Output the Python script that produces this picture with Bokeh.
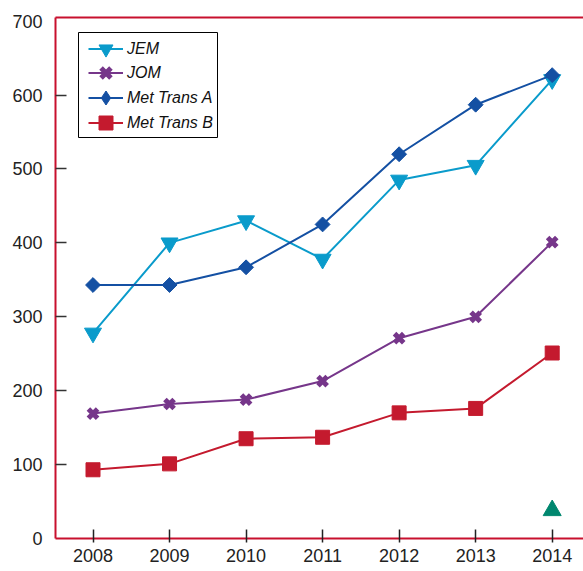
import numpy as np
from bokeh.plotting import figure
from bokeh.models import FixedTicker, LinearAxis, Range1d, BoxAnnotation, Legend, LegendItem
from bokeh.embed import file_html
from bokeh.resources import INLINE

# ---- data ----
years = [2008, 2009, 2010, 2011, 2012, 2013, 2014]
jem = [278, 400, 430, 378, 485, 505, 621]
jom = [169, 182, 188, 213, 271, 300, 401]
met_trans_a = [343, 343, 367, 425, 520, 587, 627]
met_trans_b = [93, 101, 135, 137, 170, 176, 251]
extra_year = [2014]
extra_value = [38]
series_names = ["JEM", "JOM", "Met Trans A", "Met Trans B"]
y_tick_values = [0, 100, 200, 300, 400, 500, 600, 700]
y_tick_marks = [100, 200, 300, 400, 500, 600]
x_tick_values = years

# ---- styles ----
RED = "#C8102E"
C_JEM = "#0A9BCB"
C_JOM = "#76368A"
C_MTA = "#1450A3"
C_MTB = "#C41A2E"
C_GREEN = "#00876F"
TICK_FONT = "Liberation Sans"
LEG_FONT = "Liberation Sans"

p = figure(width=583, height=571,
           x_range=Range1d(2007.51, 2014.409), y_range=Range1d(0, 705),
           output_backend="svg", toolbar_location=None,
           min_border_left=55, min_border_right=0,
           min_border_top=17, min_border_bottom=33)
p.outline_line_color = None
p.grid.visible = False
p.background_fill_color = "white"

# series
r_jem = [p.line(years, jem, color=C_JEM, line_width=2),
         p.scatter(years, jem, marker="inverted_triangle", size=17, color=C_JEM)]
r_jom = [p.line(years, jom, color=C_JOM, line_width=2),
         p.scatter(years, jom, marker="x", size=13, line_width=5, color=C_JOM)]
mta_line = p.line(years, met_trans_a, color=C_MTA, line_width=2)
p.scatter(years, met_trans_a, marker="square", angle=np.pi / 4, size=10.5, color=C_MTA)
# legend-only diamond (legend glyphs are never rotated)
mta_key = p.scatter(years, met_trans_a, marker="diamond", size=15, color=C_MTA, visible=False)
r_mta = [mta_line, mta_key]
r_mtb = [p.line(years, met_trans_b, color=C_MTB, line_width=2),
         p.scatter(years, met_trans_b, marker="square", size=14, color=C_MTB)]
p.scatter(extra_year, extra_value, marker="triangle", size=18, color=C_GREEN)

# y axis
ya = p.yaxis[0]
ya.ticker = FixedTicker(ticks=y_tick_values, minor_ticks=y_tick_marks)
ya.major_tick_line_color = None
ya.major_tick_in = 0
ya.major_tick_out = 0
ya.minor_tick_in = 11
ya.minor_tick_out = 0
ya.minor_tick_line_color = "#333333"
ya.minor_tick_line_width = 1.5
ya.axis_line_color = RED
ya.axis_line_width = 2
ya.major_label_standoff = 13
ya.major_label_text_font = TICK_FONT
ya.major_label_text_font_size = "18px"
ya.major_label_text_color = "#222222"

# x axis
xa = p.xaxis[0]
xa.ticker = FixedTicker(ticks=x_tick_values, minor_ticks=[])
xa.major_tick_in = 9
xa.major_tick_out = 4
xa.major_tick_line_color = "#222222"
xa.major_tick_line_width = 1.5
xa.minor_tick_line_color = None
xa.axis_line_color = RED
xa.axis_line_width = 2
xa.major_label_standoff = 6
xa.major_label_text_font = TICK_FONT
xa.major_label_text_font_size = "18px"
xa.major_label_text_color = "#222222"

# top border
top = LinearAxis(ticker=FixedTicker(ticks=[]), axis_line_color=RED, axis_line_width=2,
                 major_tick_line_color=None, minor_tick_line_color=None,
                 major_tick_in=0, major_tick_out=0, minor_tick_in=0, minor_tick_out=0,
                 major_label_standoff=0)
p.add_layout(top, "above")

# legend: one row per Legend so rows can be closer than the marker box
legend_box = BoxAnnotation(left=23, right=162, top=506, bottom=401,
                           left_units="screen", right_units="screen",
                           top_units="screen", bottom_units="screen",
                           fill_color="white", fill_alpha=1,
                           line_color="black", line_width=1, line_alpha=1)
p.add_layout(legend_box)

row_bottoms = [472, 448, 423, 398]
for name, rends, yb in zip(series_names, [r_jem, r_jom, r_mta, r_mtb], row_bottoms):
    lg = Legend(items=[LegendItem(label=name, renderers=rends)], location=(33, yb),
                label_text_font=LEG_FONT, label_text_font_style="italic",
                label_text_font_size="16px", label_text_color="#111111",
                glyph_width=35, glyph_height=35, label_height=20, label_standoff=4,
                spacing=0, padding=0, margin=0, click_policy="none",
                border_line_color=None, background_fill_color=None)
    p.add_layout(lg)

open("out.html", "w").write(file_html(p, INLINE))
